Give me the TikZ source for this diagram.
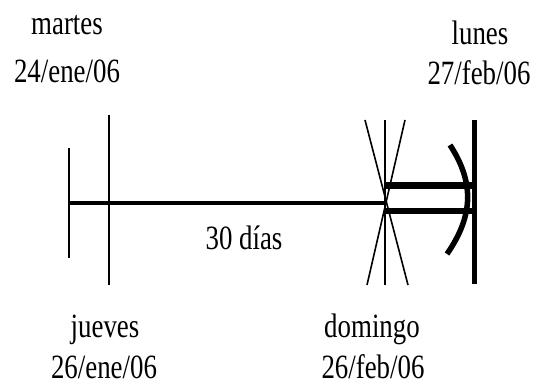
\documentclass[tikz,border=0pt]{standalone}
\usepackage{fontspec}
\setmainfont[FakeStretch=0.79]{Liberation Serif}
\begin{document}
\begin{tikzpicture}[x=1pt,y=-1pt,
  lbl/.style={anchor=base,inner sep=0pt,font=\fontsize{34}{40}\selectfont},
  thin/.style={line width=2pt},
  xline/.style={line width=1.6pt},
  thick/.style={line width=6.5pt},
  bar/.style={line width=5.5pt}]
\useasboundingbox (0,0) rectangle (536,385);
% coordinates
\coordinate (a1) at (69,148);  \coordinate (a2) at (69,258);
\coordinate (j1) at (109,115); \coordinate (j2) at (109,285);
\coordinate (d1) at (385,120); \coordinate (d2) at (385,285);
\coordinate (x1) at (365,120); \coordinate (x2) at (408,285);
\coordinate (y1) at (405,120); \coordinate (y2) at (367,285);
\coordinate (m0) at (69,203);  \coordinate (m1) at (386,203);
\coordinate (u0) at (385,185.5); \coordinate (u1) at (472,185.5);
\coordinate (l0) at (385,211); \coordinate (l1) at (472,211);
\coordinate (r1) at (474.5,120); \coordinate (r2) at (474.5,284);
\coordinate (h1) at (450,145); \coordinate (h2) at (447,254);
% lines
\draw[thin] (a1) -- (a2);
\draw[thin] (j1) -- (j2);
\draw[line width=3.5pt] (m0) -- (m1);
\draw[thin] (d1) -- (d2);
\draw[xline] (x1) -- (x2);
\draw[xline] (y1) -- (y2);
\draw[thick] (u0) -- (u1);
\draw[thick] (l0) -- (l1);
\draw[bar] (r1) -- (r2);
\draw[line width=5.5pt] (h1) .. controls (474,182) and (474,215) .. (h2);
% labels
\node[lbl] (t1) at (67,35) {martes};
\node[lbl] (t2) at (67,83) {24/ene/06};
\node[lbl] (t3) at (480,45) {lunes};
\node[lbl] (t4) at (479,85) {27/feb/06};
\node[lbl] (t5) at (244,250) {30 días};
\node[lbl] (t6) at (105,337) {jueves};
\node[lbl] (t7) at (104,378) {26/ene/06};
\node[lbl] (t8) at (372,337) {domingo};
\node[lbl] (t9) at (373,378) {26/feb/06};
\end{tikzpicture}
\end{document}
